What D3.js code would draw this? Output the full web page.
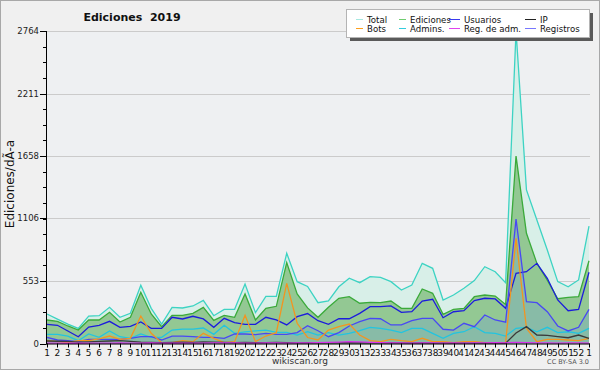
<!DOCTYPE html>
<html>
<head>
<meta charset="utf-8">
<script src="https://cdn.jsdelivr.net/npm/d3@7"></script>
<style>
  body { margin: 0; background: #f0f0f0; }
  svg { display: block; font-family: "DejaVu Sans", sans-serif; }
</style>
</head>
<body>
<svg id="chart" width="600" height="370"></svg>
<script>
// semanas del 2019 (la ultima es la 1 del 2020)
var weeks = [1,2,3,4,5,6,7,8,9,10,11,12,13,14,15,16,17,18,19,20,21,22,23,24,25,26,
             27,28,29,30,31,32,33,34,35,36,37,38,39,40,41,42,43,44,45,46,47,48,49,50,51,52,1];

var total = [261,216,172,134,243,246,320,232,267,515,311,172,320,314,332,382,246,302,302,526,273,417,417,798,547,505,
             361,376,502,577,538,591,585,547,473,517,709,665,385,429,488,556,679,635,538,2764,1358,1092,827,547,502,562,1039];
var ediciones = [208,196,155,119,208,208,276,190,232,453,261,149,249,249,267,320,205,249,232,438,208,311,329,715,438,315,
                 232,320,400,414,356,364,361,376,311,311,482,444,258,302,311,414,429,420,345,1658,975,709,560,396,408,414,732];
var usuarios = [170,161,111,60,146,161,196,143,152,190,134,134,232,217,241,217,143,223,184,170,170,232,208,164,237,265,
                202,170,219,219,267,326,326,332,276,281,376,391,228,281,290,379,400,394,311,620,635,709,577,385,290,302,630];
var registros = [55,31,25,16,37,37,37,37,46,60,60,31,66,66,60,55,55,46,84,84,78,90,81,81,96,158,
                 113,60,96,155,193,223,219,164,164,202,223,223,126,119,179,149,252,208,188,1100,370,361,281,155,111,143,302];
var admins = [81,81,66,25,84,55,111,60,46,84,55,55,119,128,128,137,81,161,90,102,111,119,99,99,75,105,
              75,96,75,90,113,143,134,119,96,134,134,90,46,90,104,149,96,90,66,134,143,104,143,96,104,90,134];
var bots = [25,16,7,25,25,40,66,37,46,243,90,7,7,25,16,90,46,7,16,249,16,66,96,532,179,53,
            31,119,149,172,75,25,16,37,25,16,46,16,16,7,16,16,7,7,7,930,134,16,37,37,31,25,46];
var ip = [22,20,18,12,14,18,22,25,18,12,10,8,10,12,10,14,12,10,8,10,8,8,10,8,6,8,
          6,5,6,8,6,5,5,6,5,4,5,4,4,3,3,4,3,3,2,93,149,75,71,60,51,75,46];
var regAdm = [3,3,2,2,3,4,3,5,3,4,6,3,2,3,4,3,5,6,5,4,3,6,5,4,5,6,
              8,10,12,16,14,10,8,6,5,4,6,5,4,5,4,6,5,8,6,10,8,6,5,4,6,5,4];

var yMax = 2764;
var yTicks = [0, 553, 1106, 1658, 2211, 2764];

var series = [
    { name: "Total",        values: total,     color: "#3dd3c3", fill: "#d8efe8", legend: "#a6e8e0" },
    { name: "Ediciones",    values: ediciones, color: "#3aaa3a", fill: "#93c893", legend: "#70cc70" },
    { name: "Usuarios",     values: usuarios,  color: "#1c1cdc", legend: "#3a3aee" },
    { name: "IP",           values: ip,        color: "#3a3a3a", legend: "#222222" },
    { name: "Bots",         values: bots,      color: "#f39420", legend: "#ff9f1c" },
    { name: "Admins.",      values: admins,    color: "#22c4e0", legend: "#33ccdd" },
    { name: "Reg. de adm.", values: regAdm,    color: "#d830ec", legend: "#e044ee" },
    { name: "Registros",    values: registros, color: "#4848f4", fill: "#88bba7", legend: "#7777ff" }
];

var draw_chart = function () {
    var svg = d3.select("#chart");

    // fondo y marco
    svg.append("rect")
        .attr("x", 0.5).attr("y", 0.5).attr("width", 599).attr("height", 369)
        .attr("fill", "#f0f0f0").attr("stroke", "#a8a8a8");

    var pLeft = 46, pRight = 590, pTop = 31, pBottom = 343.5;

    svg.append("rect")
        .attr("x", pLeft).attr("y", pTop).attr("width", pRight - pLeft).attr("height", pBottom - pTop)
        .attr("fill", "#eef0f2");

    var x = d3.scaleLinear().domain([0, weeks.length - 1]).range([47, 589]);
    var y = d3.scaleLinear().domain([0, yMax]).range([pBottom, pTop]);

    // lineas horizontales
    svg.append("g").selectAll("line")
        .data(yTicks.filter(d => d > 0))
        .join("line")
        .attr("x1", pLeft).attr("x2", pRight)
        .attr("y1", d => Math.round(y(d)) + 0.5).attr("y2", d => Math.round(y(d)) + 0.5)
        .attr("stroke", "#cbcbcb");

    var area = d3.area().x((d, i) => x(i)).y0(y(0)).y1(d => y(d));
    var line = d3.line().x((d, i) => x(i)).y(d => y(d));

    // areas
    series.filter(s => s.fill).forEach(function (s) {
        svg.append("path").datum(s.values)
            .attr("d", area)
            .attr("fill", s.fill);
    });

    // lineas (orden de dibujo)
    var drawOrder = ["Total", "Ediciones", "Usuarios", "Admins.", "Registros", "Bots", "IP", "Reg. de adm."];
    drawOrder.forEach(function (n) {
        var s = series.find(d => d.name === n);
        svg.append("path").datum(s.values)
            .attr("d", line)
            .attr("fill", "none")
            .attr("stroke", s.color)
            .attr("stroke-width", 1.3);
    });

    // eje Y
    var yAxis = svg.append("g");
    yAxis.append("line")
        .attr("x1", pLeft + 0.5).attr("x2", pLeft + 0.5).attr("y1", pTop).attr("y2", pBottom + 1)
        .attr("stroke", "#000");
    var minor = d3.range(0, yMax + 1, yMax / 20);
    yAxis.selectAll("line.minor")
        .data(minor)
        .join("line").attr("class", "minor")
        .attr("x1", pLeft - 3).attr("x2", pLeft)
        .attr("y1", d => Math.round(y(d)) + 0.5).attr("y2", d => Math.round(y(d)) + 0.5)
        .attr("stroke", "#000");
    yAxis.selectAll("line.major")
        .data(yTicks)
        .join("line").attr("class", "major")
        .attr("x1", pLeft - 6).attr("x2", pLeft)
        .attr("y1", d => Math.round(y(d)) + 0.5).attr("y2", d => Math.round(y(d)) + 0.5)
        .attr("stroke", "#000");
    yAxis.selectAll("text")
        .data(yTicks)
        .join("text")
        .attr("x", pLeft - 7).attr("y", d => y(d) + 3)
        .attr("text-anchor", "end")
        .attr("font-size", 8.5)
        .attr("fill", "#222")
        .text(d => d);

    svg.append("text")
        .attr("transform", "translate(14,184) rotate(-90)")
        .attr("text-anchor", "middle")
        .attr("font-size", 12)
        .attr("fill", "#111")
        .text("Ediciones/dÃ-a");

    // eje X
    var xAxis = svg.append("g");
    xAxis.append("line")
        .attr("x1", pLeft).attr("x2", pRight).attr("y1", pBottom + 0.5).attr("y2", pBottom + 0.5)
        .attr("stroke", "#000");
    xAxis.selectAll("line.tick")
        .data(weeks)
        .join("line").attr("class", "tick")
        .attr("x1", (d, i) => Math.round(x(i)) + 0.5).attr("x2", (d, i) => Math.round(x(i)) + 0.5)
        .attr("y1", pBottom).attr("y2", pBottom + 4)
        .attr("stroke", "#000");
    xAxis.selectAll("text")
        .data(weeks)
        .join("text")
        .attr("x", (d, i) => x(i))
        .attr("y", pBottom + 12)
        .attr("text-anchor", "middle")
        .attr("font-size", 9)
        .attr("fill", "#111")
        .text(d => d);

    // titulo y pie
    svg.append("text")
        .attr("x", 132).attr("y", 21)
        .attr("text-anchor", "middle")
        .attr("font-size", 11).attr("font-weight", "bold")
        .attr("fill", "#111")
        .style("white-space", "pre")
        .text("Ediciones  2019");

    svg.append("text")
        .attr("x", 300).attr("y", 364)
        .attr("text-anchor", "middle")
        .attr("font-size", 9).attr("fill", "#333")
        .text("wikiscan.org");

    svg.append("text")
        .attr("x", 589).attr("y", 364)
        .attr("text-anchor", "end")
        .attr("font-size", 6.5).attr("fill", "#555")
        .text("CC BY-SA 3.0");

    // leyenda
    var lg = svg.append("g");
    lg.append("rect")
        .attr("x", 350).attr("y", 13).attr("width", 243).attr("height", 28)
        .attr("fill", "#5a5a5a");
    lg.append("rect")
        .attr("x", 346.5).attr("y", 9.5).attr("width", 243).attr("height", 28)
        .attr("fill", "#fff").attr("stroke", "#b4b4b4");

    var colX = [356, 399, 453, 529];
    var rowY = [19, 28];
    var legendOrder = ["Total", "Ediciones", "Usuarios", "IP", "Bots", "Admins.", "Reg. de adm.", "Registros"];
    legendOrder.forEach(function (n, k) {
        var s = series.find(d => d.name === n);
        var cx = colX[k % 4], cy = rowY[Math.floor(k / 4)];
        var len = (k % 4) >= 2 ? 11 : 7;
        lg.append("line")
            .attr("x1", cx - (len - 7)).attr("x2", cx + 7)
            .attr("y1", cy + 0.5).attr("y2", cy + 0.5)
            .attr("stroke", s.legend);
        lg.append("text")
            .attr("x", cx + 11).attr("y", cy + 3.5)
            .attr("font-size", 8.6)
            .attr("fill", "#111")
            .text(n);
    });
};

draw_chart();
</script>
</body>
</html>
